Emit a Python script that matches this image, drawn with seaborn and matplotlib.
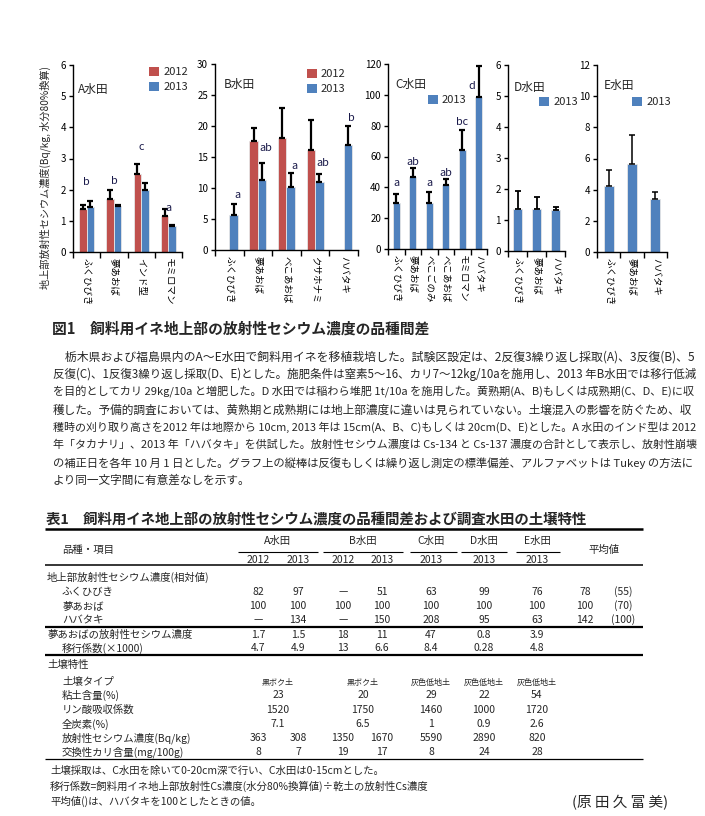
import numpy as np
import pandas as pd
import matplotlib
matplotlib.use('Agg')
import matplotlib.pyplot as plt
from matplotlib.lines import Line2D
from matplotlib.patches import Patch
import seaborn as sns

# ---------------- data ----------------
catA = ['ふくひびき', '夢あおば', 'インド型', 'モミロマン']
A2012 = [1.39, 1.69, 2.49, 1.16]
A2012_sd = [0.11, 0.29, 0.34, 0.23]
A2013 = [1.45, 1.48, 1.98, 0.83]
A2013_sd = [0.19, 0.02, 0.24, 0.05]
letA = ['b', 'b', 'c', 'a']
letA_y = [2.23, 2.27, 3.38, 1.41]

catB = ['ふくひびき', '夢あおば', 'べこあおば', 'クサホナミ', 'ハバタキ']
B2012 = [np.nan, 17.6, 18.0, 16.2, np.nan]
B2012_sd = [np.nan, 2.1, 4.9, 4.7, np.nan]
B2013 = [5.65, 11.25, 10.1, 10.9, 17.0]
B2013_sd = [1.75, 2.85, 2.3, 1.3, 3.0]
letB = ['a', 'ab', 'a', 'ab', 'b']
letB_y = [8.9, 16.5, 13.6, 14.0, 21.3]

catC = ['ふくひびき', '夢あおば', 'べこごのみ', 'べこあおば', 'モミロマン', 'ハバタキ']
C2013 = [29.7, 47.0, 30.1, 41.2, 63.9, 98.5]
C2013_sd = [5.8, 5.4, 6.7, 4.1, 13.0, 20.0]
letC = ['a', 'ab', 'a', 'ab', 'bc', 'd']
letC_y = [42.7, 56.3, 42.7, 49.2, 82.7, 105.5]

catD = ['ふくひびき', '夢あおば', 'ハバタキ']
D2013 = [1.37, 1.37, 1.32]
D2013_sd = [0.56, 0.38, 0.11]

catE = ['ふくひびき', '夢あおば', 'ハバタキ']
E2013 = [4.24, 5.63, 3.43]
E2013_sd = [1.01, 1.87, 0.42]

years = ['2012', '2013']

# table data
tbl_fields = ['A水田', 'B水田', 'C水田', 'D水田', 'E水田']
tbl_years = ['2012', '2013', '2012', '2013', '2013', '2013', '2013']
rel_fuku = ['82', '97', '—', '51', '63', '99', '76', '78', '(55)']
rel_yume = ['100', '100', '100', '100', '100', '100', '100', '100', '(70)']
rel_haba = ['—', '134', '—', '150', '208', '95', '63', '142', '(100)']
yume_cs = ['1.7', '1.5', '18', '11', '47', '0.8', '3.9']
tf_coef = ['4.7', '4.9', '13', '6.6', '8.4', '0.28', '4.8']
soil_type = ['黒ボク土', '黒ボク土', '灰色低地土', '灰色低地土', '灰色低地土']
clay = ['23', '20', '29', '22', '54']
phos = ['1520', '1750', '1460', '1000', '1720']
carbon = ['7.1', '6.5', '1', '0.9', '2.6']
soil_cs = ['363', '308', '1350', '1670', '5590', '2890', '820']
exk = ['8', '7', '19', '17', '8', '24', '28']

para_lines = [
    '　栃木県および福島県内のA～E水田で飼料用イネを移植栽培した。試験区設定は、2反復3繰り返し採取(A)、3反復(B)、5',
    '反復(C)、1反復3繰り返し採取(D、E)とした。施肥条件は窒素5～16、カリ7～12kg/10aを施用し、2013 年B水田では移行低減',
    'を目的としてカリ 29kg/10a と増肥した。D 水田では稲わら堆肥 1t/10a を施用した。黄熟期(A、B)もしくは成熟期(C、D、E)に収',
    '穫した。予備的調査においては、黄熟期と成熟期には地上部濃度に違いは見られていない。土壌混入の影響を防ぐため、収',
    '穫時の刈り取り高さを2012 年は地際から 10cm, 2013 年は 15cm(A、B、C)もしくは 20cm(D、E)とした。A 水田のインド型は 2012',
    '年「タカナリ」、2013 年「ハバタキ」を供試した。放射性セシウム濃度は Cs-134 と Cs-137 濃度の合計として表示し、放射性崩壊',
    'の補正日を各年 10 月 1 日とした。グラフ上の縦棒は反復もしくは繰り返し測定の標準偏差、アルファベットは Tukey の方法に',
    'より同一文字間に有意差なしを示す。',
]

# ---------------- style ----------------
sns.set_style('ticks')
plt.rcParams['font.family'] = ['Noto Sans CJK JP', 'DejaVu Sans']
plt.rcParams['axes.linewidth'] = 1.0
plt.rcParams['axes.edgecolor'] = 'black'
plt.rcParams['xtick.color'] = 'black'
plt.rcParams['ytick.color'] = 'black'

RED = '#C0504D'
BLUE = '#4F81BD'
W, H = 705, 816
fig = plt.figure(figsize=(7.05, 8.16), dpi=100)


def add_ax(x0, x1, ytop, ybot):
    return fig.add_axes([x0 / W, 1 - ybot / H, (x1 - x0) / W, (ybot - ytop) / H])


def style_ax(ax, cats, ymax, step):
    n = len(cats)
    ax.set_xlim(-0.5, n - 0.5)
    ax.set_ylim(0, ymax)
    ax.set_yticks(np.arange(0, ymax + step / 2, step))
    ax.set_xticks(range(n))
    ax.set_xticklabels(cats, rotation=-90, fontsize=6.8)
    ax.tick_params(axis='x', which='major', length=0, pad=4)
    ax.set_xticks(np.arange(-0.5, n), minor=True)
    ax.tick_params(axis='x', which='minor', length=4, width=1, direction='out')
    ax.tick_params(axis='y', length=3, width=1, labelsize=7, pad=2, direction='out')
    sns.despine(ax=ax)
    ax.set_xlabel('')
    ax.set_ylabel('')


def add_err(ax, containers, sds_list, lw=1.4):
    for cont, sds in zip(containers, sds_list):
        for bar in cont:
            h = bar.get_height()
            if h is None or np.isnan(h):
                continue
            cx = bar.get_x() + bar.get_width() / 2
            i = int(round(cx))
            sd = sds[i]
            if np.isnan(sd):
                continue
            ax.errorbar(cx, h, yerr=[[0], [sd]], fmt='none', ecolor='black',
                        elinewidth=lw, capsize=2.2, capthick=lw, zorder=3)


def paired(ax, cats, v12, v13, width):
    df = pd.DataFrame({'品種': cats * 2,
                       '年': [years[0]] * len(cats) + [years[1]] * len(cats),
                       '値': list(v12) + list(v13)})
    sns.barplot(data=df, x='品種', y='値', hue='年', order=cats, hue_order=years,
                palette=[RED, BLUE], saturation=1, width=width, errorbar=None,
                legend=False, ax=ax, edgecolor='#e6e6e6', linewidth=0.6)
    return list(ax.containers)


def single(ax, cats, vals, width):
    df = pd.DataFrame({'品種': cats, '値': vals})
    sns.barplot(data=df, x='品種', y='値', order=cats, color=BLUE, saturation=1,
                width=width, errorbar=None, ax=ax, edgecolor='#e6e6e6', linewidth=0.6)
    return list(ax.containers)


def legend(ax, labels, colors, loc_xy):
    handles = [Patch(facecolor=c, edgecolor='none') for c in colors]
    ax.legend(handles, labels, loc='upper left', bbox_to_anchor=loc_xy, frameon=False,
              fontsize=8, handlelength=0.9, handleheight=0.9, handletextpad=0.4,
              labelspacing=0.4, borderaxespad=0, borderpad=0)


LET_FS = 7.8
TTL_FS = 8.5
LET_C = '#1a1a4a'

# Panel A
axA = add_ax(73, 182, 65, 252)
cont = paired(axA, catA, A2012, A2013, 0.55)
add_err(axA, cont, [A2012_sd, A2013_sd], lw=1.6)
style_ax(axA, catA, 6, 1)
for i, (t, y) in enumerate(zip(letA, letA_y)):
    axA.text(i, y, t, ha='center', va='center', fontsize=LET_FS, color=LET_C)
axA.text(0.05, 0.87, 'A水田', transform=axA.transAxes, fontsize=TTL_FS, va='center')
legend(axA, years, [RED, BLUE], (0.70, 0.99))

# Panel B
axB = add_ax(215, 358, 64, 250)
cont = paired(axB, catB, B2012, B2013, 0.6)
add_err(axB, cont, [B2012_sd, B2013_sd], lw=1.6)
style_ax(axB, catB, 30, 5)
for i, (t, y) in enumerate(zip(letB, letB_y)):
    axB.text(i + 0.27, y, t, ha='center', va='center', fontsize=LET_FS, color=LET_C)
axB.text(0.06, 0.89, 'B水田', transform=axB.transAxes, fontsize=TTL_FS, va='center')
legend(axB, years, [RED, BLUE], (0.64, 0.975))

# Panel C
axC = add_ax(388, 487, 64, 249)
cont = single(axC, catC, C2013, 0.45)
add_err(axC, cont, [C2013_sd], lw=1.6)
style_ax(axC, catC, 120, 20)
for i, (t, y) in enumerate(zip(letC, letC_y)):
    dx = -0.45 if i == len(letC) - 1 else 0
    axC.text(i + dx, y, t, ha='center', va='center', fontsize=LET_FS, color=LET_C)
axC.text(0.07, 0.89, 'C水田', transform=axC.transAxes, fontsize=TTL_FS, va='center')
legend(axC, ['2013'], [BLUE], (0.40, 0.835))

# Panel D
axD = add_ax(508, 565, 65, 251)
cont = single(axD, catD, D2013, 0.45)
add_err(axD, cont, [D2013_sd], lw=1.3)
style_ax(axD, catD, 6, 1)
axD.text(0.1, 0.88, 'D水田', transform=axD.transAxes, fontsize=TTL_FS, va='center')
legend(axD, ['2013'], [BLUE], (0.55, 0.83))

# Panel E
axE = add_ax(597, 667, 65, 252)
cont = single(axE, catE, E2013, 0.42)
add_err(axE, cont, [E2013_sd], lw=1.1)
style_ax(axE, catE, 12, 2)
axE.text(0.1, 0.89, 'E水田', transform=axE.transAxes, fontsize=TTL_FS, va='center')
legend(axE, ['2013'], [BLUE], (0.50, 0.83))

fig.text(45 / W, 1 - 178 / H, '地上部放射性セシウム濃度(Bq/kg, 水分80%換算)', rotation=90,
         ha='center', va='center', fontsize=7.3)

# ---------------- text helpers ----------------
renderer = fig.canvas.get_renderer()


def ftxt(x, y, s, size, ha='left', **kw):
    return fig.text(x / W, 1 - y / H, s, fontsize=size, ha=ha, va='center', **kw)


def hline(x0, x1, y, lw):
    fig.add_artist(Line2D([x0 / W, x1 / W], [1 - y / H, 1 - y / H], transform=fig.transFigure,
                          color='black', lw=lw, solid_capstyle='butt'))


# Figure caption
ftxt(52, 329, '図1　飼料用イネ地上部の放射性セシウム濃度の品種間差', 10.6, fontweight='bold')

# paragraph, justified
left, right = 53, 694
base = 8.4
for k, line in enumerate(para_lines):
    y = 357 + k * 17.6
    t = ftxt(left, y, line, base)
    if k < len(para_lines) - 1:
        w = t.get_window_extent(renderer).width
        t.set_fontsize(base * (right - left) / w)

# ---------------- table ----------------
ftxt(46, 520, '表1　飼料用イネ地上部の放射性セシウム濃度の品種間差および調査水田の土壌特性', 10.4,
     fontweight='bold')
TL, TR = 45, 643
hline(TL, TR, 529, 1.8)
col_x = [258, 298, 343, 382, 431, 484, 537, 585, 623]
grp_x = [278, 363, 431, 484, 537]
grp_span = [(238, 318), (323, 403), (410, 457), (461, 507), (516, 560)]
FS = 7.5
ftxt(88, 550, '品種・項目', FS, ha='center')
for name, gx, (a, b) in zip(tbl_fields, grp_x, grp_span):
    ftxt(gx, 541, name, FS, ha='center')
    hline(a, b, 551.5, 0.8)
ftxt(604, 550, '平均値', FS, ha='center')
for yr, cx in zip(tbl_years, col_x):
    ftxt(cx, 560, yr, FS, ha='center')
hline(TL, TR, 565, 1.1)

ftxt(47, 577, '地上部放射性セシウム濃度(相対値)', FS)
rows_rel = [('ふくひびき', rel_fuku, 592), ('夢あおば', rel_yume, 606), ('ハバタキ', rel_haba, 620)]
for name, vals, y in rows_rel:
    ftxt(62, y, name, FS)
    for v, cx in zip(vals, col_x):
        ftxt(cx, y, v, FS, ha='center')
hline(TL, TR, 627, 1.6)
ftxt(47, 635, '夢あおばの放射性セシウム濃度', FS)
for v, cx in zip(yume_cs, col_x):
    ftxt(cx, 635, v, FS, ha='center')
ftxt(62, 648, '移行係数(×1000)', FS)
for v, cx in zip(tf_coef, col_x):
    ftxt(cx, 648, v, FS, ha='center')
hline(TL, TR, 654.5, 1.6)

ftxt(47, 665, '土壌特性', FS)
ftxt(62, 681, '土壌タイプ', FS)
for v, cx in zip(soil_type, grp_x):
    ftxt(cx, 682, v, 5.8, ha='center')
soil_rows = [('粘土含量(%)', clay, 695), ('リン酸吸収係数', phos, 710), ('全炭素(%)', carbon, 724)]
for name, vals, y in soil_rows:
    ftxt(62, y, name, FS)
    for v, cx in zip(vals, grp_x):
        ftxt(cx, y, v, FS, ha='center')
ftxt(62, 738, '放射性セシウム濃度(Bq/kg)', FS)
for v, cx in zip(soil_cs, col_x):
    ftxt(cx, 738, v, FS, ha='center')
ftxt(62, 752, '交換性カリ含量(mg/100g)', FS)
for v, cx in zip(exk, col_x):
    ftxt(cx, 752, v, FS, ha='center')
hline(TL, TR, 758.5, 0.9)

ftxt(50, 771, '土壌採取は、C水田を除いて0-20cm深で行い、C水田は0-15cmとした。', FS)
ftxt(50, 786, '移行係数=飼料用イネ地上部放射性Cs濃度(水分80%換算値)÷乾土の放射性Cs濃度', FS)
ftxt(50, 801, '平均値()は、ハバタキを100としたときの値。', FS)
ftxt(668, 803, '(原 田 久 富 美)', 10.5, ha='right')

fig.savefig('out.png', dpi=100)
